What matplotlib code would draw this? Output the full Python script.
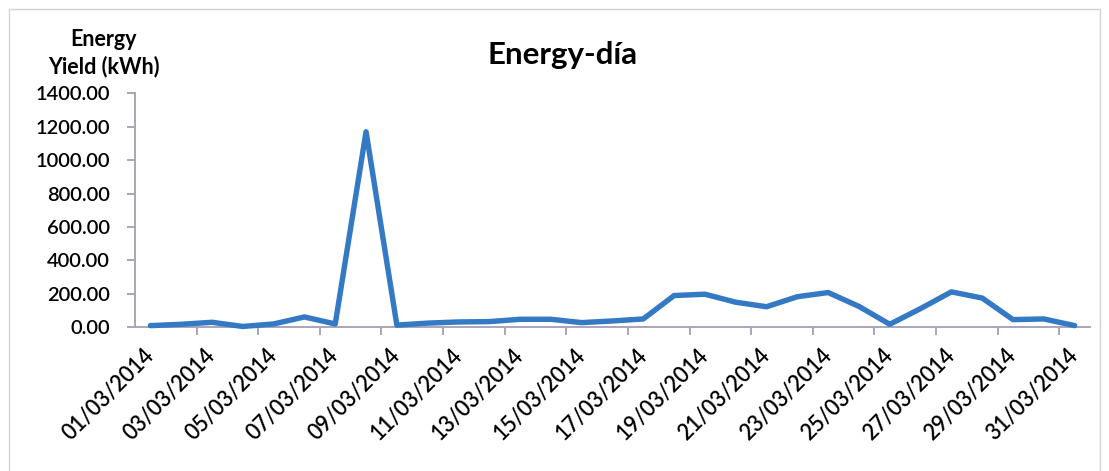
import matplotlib
matplotlib.use("Agg")
import matplotlib.pyplot as plt
from matplotlib.patches import Rectangle
from matplotlib.ticker import FixedLocator, NullFormatter

# Daily energy yield, March 2014
dates = [
    "01/03/2014", "02/03/2014", "03/03/2014", "04/03/2014", "05/03/2014",
    "06/03/2014", "07/03/2014", "08/03/2014", "09/03/2014", "10/03/2014",
    "11/03/2014", "12/03/2014", "13/03/2014", "14/03/2014", "15/03/2014",
    "16/03/2014", "17/03/2014", "18/03/2014", "19/03/2014", "20/03/2014",
    "21/03/2014", "22/03/2014", "23/03/2014", "24/03/2014", "25/03/2014",
    "26/03/2014", "27/03/2014", "28/03/2014", "29/03/2014", "30/03/2014",
    "31/03/2014",
]
energy_kwh = [10, 18, 30, 5, 20, 62, 20, 1170, 13, 25, 32, 34, 48, 48, 28,
              38, 50, 190, 198, 150, 123, 183, 208, 125, 18, 112, 212, 175,
              46, 50, 10]
y_ticks = [0, 200, 400, 600, 800, 1000, 1200, 1400]

FONT = "Lato"
AXIS_COLOR = "#aaa4bb"
LINE_COLOR = "#3479c4"

W, H = 1109, 471
fig = plt.figure(figsize=(W / 100, H / 100), dpi=100)
fig.patch.set_facecolor("white")

# chart-area frame
fig.add_artist(Rectangle((9 / W, -0.05), (1100 - 9) / W, 1.05 - 9 / H,
                         transform=fig.transFigure, fill=False,
                         edgecolor="#d4d2d8", linewidth=1.0))

left, right = 135 / W, 1090 / W
bottom, top = 1 - 327.3 / H, 1 - 93.3 / H
ax = fig.add_axes([left, bottom, right - left, top - bottom])

x = list(range(len(dates)))
ax.plot(x, energy_kwh, color=LINE_COLOR, linewidth=3.9,
        solid_joinstyle="round", solid_capstyle="round", clip_on=False,
        zorder=3)

ax.set_xlim(-0.5, len(dates) - 0.5)
ax.set_ylim(0, 1400)

for side in ("top", "right"):
    ax.spines[side].set_visible(False)
for side in ("left", "bottom"):
    ax.spines[side].set_color(AXIS_COLOR)
    ax.spines[side].set_linewidth(1.4)

# y axis
ax.set_yticks(y_ticks)
ax.set_yticklabels([f"{v:.2f}" for v in y_ticks], fontfamily=FONT,
                   fontsize=14.5, fontweight="semibold", color="black")
ax.tick_params(axis="y", direction="out", length=6, width=1.4,
               color=AXIS_COLOR, pad=12)

# x axis: labels on every other day, tick marks on category boundaries
label_pos = x[::2]
ax.xaxis.set_major_locator(FixedLocator(label_pos))
ax.set_xticklabels([dates[i] for i in label_pos], fontfamily=FONT,
                   fontsize=15.5, fontweight="semibold", rotation=45,
                   ha="right", va="center", rotation_mode="anchor")
ax.tick_params(axis="x", which="major", length=0, pad=18)
ax.xaxis.set_minor_locator(FixedLocator([i + 1.5 for i in label_pos[:-1]]))
ax.xaxis.set_minor_formatter(NullFormatter())
ax.tick_params(axis="x", which="minor", direction="out", length=6,
               width=1.4, color=AXIS_COLOR)

fig.text(563 / W, 1 - 55 / H, "Energy-día", fontfamily=FONT,
         fontweight="bold", fontsize=22.5, ha="center", va="center")
fig.text(104 / W, 1 - 53 / H, "Energy\nYield (kWh)", fontfamily=FONT,
         fontweight="bold", fontsize=15.5, ha="center", va="center",
         linespacing=1.3)

fig.savefig("out.png", dpi=100, facecolor="white")
